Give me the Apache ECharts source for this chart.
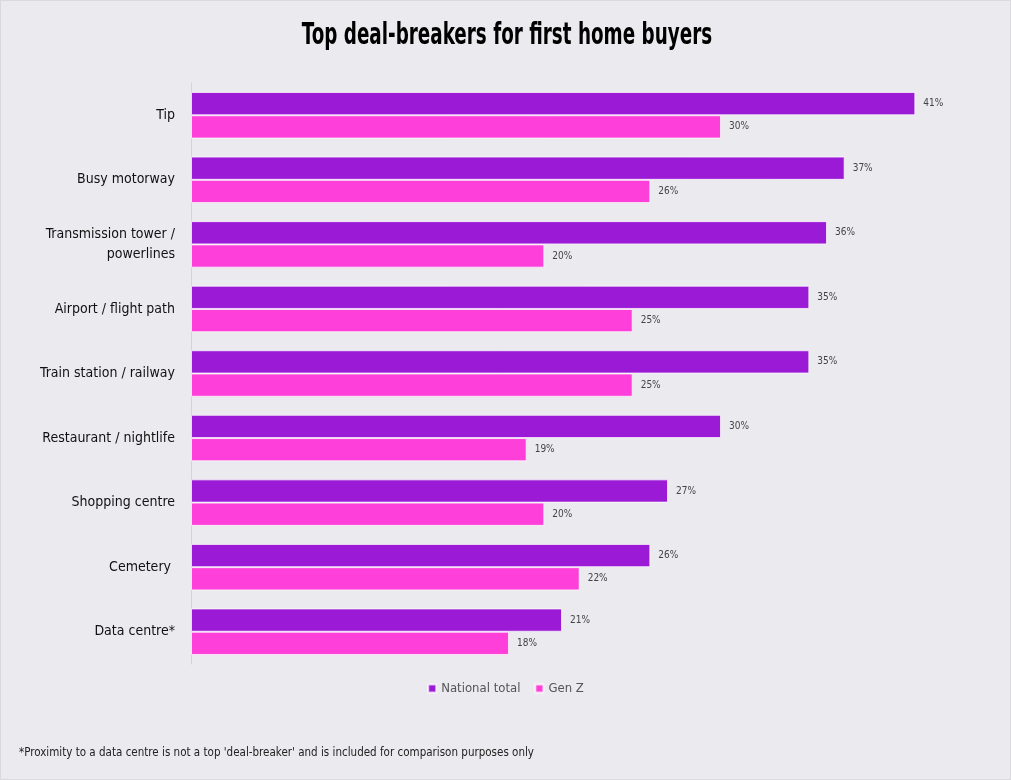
<!DOCTYPE html>
<html>
<head>
<meta charset="utf-8">
<script src="https://cdn.jsdelivr.net/npm/echarts@6/dist/echarts.min.js"></script>
<style>
html, body { margin: 0; padding: 0; background: #ebeaef; }
#main { width: 1011px; height: 780px; box-sizing: border-box; border: 1px solid #d9d9de; }
</style>
</head>
<body>
<div id="main"></div>
<script>
// data
var categories = ["Tip", "Busy motorway", "Transmission tower /\npowerlines", "Airport / flight path",
	"Train station / railway", "Restaurant / nightlife", "Shopping centre", "Cemetery ", "Data centre*"];
var nationalTotal = [41, 37, 36, 35, 35, 30, 27, 26, 21];
var genZ = [30, 26, 20, 25, 25, 19, 20, 22, 18];
var seriesNames = ["National total", "Gen Z"];

var mychart = echarts.init(document.getElementById("main"));
var labelFont = "'DejaVu Sans Condensed', 'Liberation Sans Narrow', sans-serif";
var option = {
	backgroundColor: "#ebeaef",
	animation: false,
	legend: {
		data: seriesNames,
		left: "center",
		top: 676,
		itemWidth: 8,
		itemHeight: 8,
		itemGap: 14,
		icon: "rect",
		textStyle: { fontFamily: labelFont, fontSize: 13, color: "#555" }
	},
	graphic: [{
		// heavy condensed title, squeezed horizontally
		type: "text",
		x: 506,
		y: 35,
		scaleX: 0.68,
		style: {
			text: "Top deal-breakers for first home buyers",
			font: "bold 30px 'DejaVu Sans Condensed', sans-serif",
			fill: "#000",
			textAlign: "center",
			textVerticalAlign: "middle"
		}
	}, {
		type: "text",
		x: 18,
		y: 752,
		scaleX: 0.886,
		style: {
			text: "*Proximity to a data centre is not a top 'deal-breaker' and is included for comparison purposes only",
			font: "13px 'DejaVu Sans Condensed', sans-serif",
			fill: "#222",
			textVerticalAlign: "middle"
		}
	}],
	grid: { left: 190, right: 24, top: 82, bottom: 115 },
	xAxis: {
		type: "value",
		min: 0,
		max: 45,
		show: false
	},
	yAxis: {
		type: "category",
		inverse: true,
		data: categories,
		axisLine: { lineStyle: { color: "#d3d3d8" } },
		axisTick: { length: 4, lineStyle: { color: "#d3d3d8" } },
		axisLabel: {
			fontFamily: labelFont,
			fontSize: 14,
			color: "#111",
			margin: 16,
			lineHeight: 20,
			align: "right"
		}
	},
	series: [{
		name: seriesNames[0],
		type: "bar",
		data: nationalTotal,
		barGap: "0%",
		barCategoryGap: "28%",
		itemStyle: { color: "#9b1ad6", borderColor: "rgba(255,255,255,0.7)", borderWidth: 1 },
		label: { show: true, position: "right", distance: 8, formatter: "{c}%",
			fontFamily: labelFont, fontSize: 10, color: "#444" }
	}, {
		name: seriesNames[1],
		type: "bar",
		data: genZ,
		itemStyle: { color: "#ff3fd9", borderColor: "rgba(255,255,255,0.7)", borderWidth: 1 },
		label: { show: true, position: "right", distance: 8, formatter: "{c}%",
			fontFamily: labelFont, fontSize: 10, color: "#444" }
	}]
};
mychart.setOption(option);
</script>
</body>
</html>
